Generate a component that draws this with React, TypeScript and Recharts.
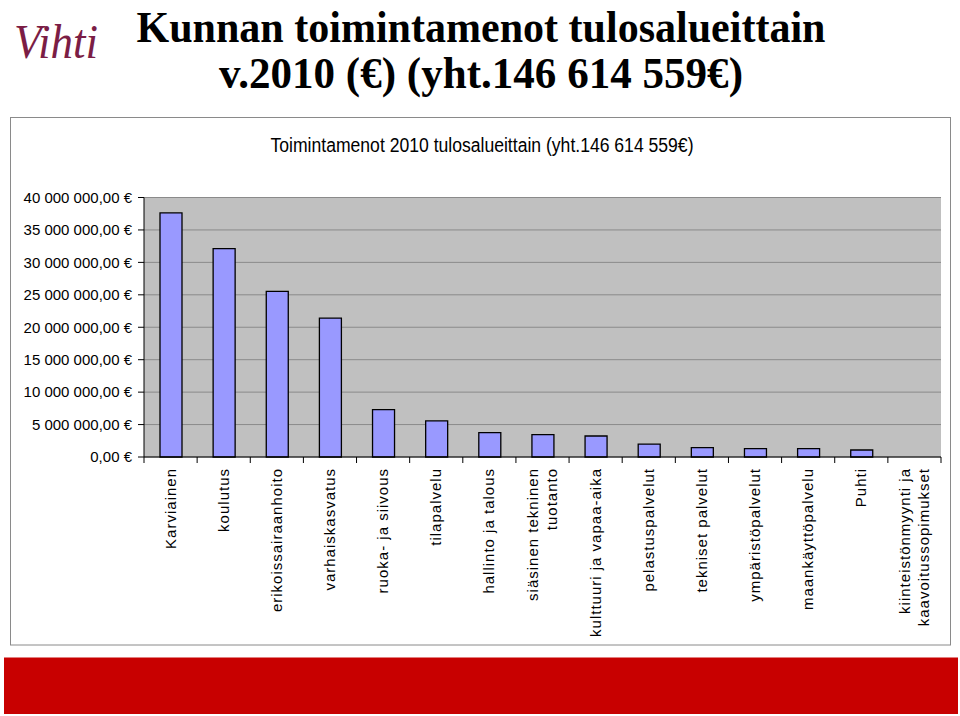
import { BarChart, Bar, XAxis, YAxis, CartesianGrid } from 'recharts';

// tulosalueet (x-akselin nimet), rivinvaihto \n
const CATEGORIES = [
  'Karviainen',
  'koulutus',
  'erikoissairaanhoito',
  'varhaiskasvatus',
  'ruoka- ja siivous',
  'tilapalvelu',
  'hallinto ja talous',
  'siäsinen tekninen\ntuotanto',
  'kulttuuri ja vapaa-aika',
  'pelastuspalvelut',
  'tekniset palvelut',
  'ympäristöpalvelut',
  'maankäyttöpalvelu',
  'Puhti',
  'kiinteistönmyynti ja\nkaavoitussopimukset',
];

// toimintamenot 2010, euroa (luettu kuvasta)
const SPENDING = [
  37620000, 32120000, 25530000, 21410000, 7310000, 5560000, 3760000, 3450000,
  3240000, 2000000, 1450000, 1290000, 1290000, 1080000, 0,
];

const Y_TICKS = [0, 5000000, 10000000, 15000000, 20000000, 25000000, 30000000, 35000000, 40000000];

const data = CATEGORIES.map((name, i) => ({ name, value: SPENDING[i] }));

const PLOT_LEFT = 144;
const PLOT_RIGHT = 941;
const BAND = (PLOT_RIGHT - PLOT_LEFT) / CATEGORIES.length;
const TICK_SIZE = 6;
const TICK_MARGIN = 5;

const formatEuro = (v: number) =>
  Math.round(v).toString().replace(/\B(?=(\d{3})+(?!\d))/g, ' ') + ',00 €';

function CategoryTick(props: any) {
  const { x, y, payload, index } = props;
  const lines = String(payload.value).split('\n');
  const axisY = y - TICK_SIZE - TICK_MARGIN;
  const lh = 19;
  return (
    <g>
      {index === 0 && (
        <line x1={x - BAND / 2} y1={axisY} x2={x - BAND / 2} y2={axisY + TICK_SIZE} stroke="#000" />
      )}
      <line x1={x + BAND / 2} y1={axisY} x2={x + BAND / 2} y2={axisY + TICK_SIZE} stroke="#000" />
      <text
        transform={`translate(${x},${y}) rotate(-90)`}
        textAnchor="end"
        fontSize={15}
        letterSpacing={1}
        fill="#000"
      >
        {lines.map((l, i) => (
          <tspan key={i} x={0} y={(i - (lines.length - 1) / 2) * lh} dy="0.33em">
            {l}
          </tspan>
        ))}
      </text>
    </g>
  );
}

export default function App() {
  return (
    <div style={{ position: 'fixed', left: 0, top: 0, width: 960, height: 716, background: '#fff' }}>
      <svg width={960} height={716} style={{ position: 'absolute', left: 0, top: 0 }}>
        <text
          x={14}
          y={58}
          fontFamily="Liberation Serif, serif"
          fontStyle="italic"
          fontSize={48}
          fill="#7b1d45"
          textLength={84}
          lengthAdjust="spacingAndGlyphs"
        >
          Vihti
        </text>
        <text
          x={481}
          y={41.7}
          textAnchor="middle"
          fontFamily="Liberation Serif, Times New Roman, serif"
          fontWeight="bold"
          fontSize={44}
          textLength={689}
          lengthAdjust="spacingAndGlyphs"
        >
          Kunnan toimintamenot tulosalueittain
        </text>
        <text
          x={481}
          y={88.3}
          textAnchor="middle"
          fontFamily="Liberation Serif, Times New Roman, serif"
          fontWeight="bold"
          fontSize={44}
          textLength={524}
          lengthAdjust="spacingAndGlyphs"
        >
          v.2010 (€) (yht.146 614 559€)
        </text>
        <rect x={10.5} y={117.5} width={940} height={527.5} fill="#fff" stroke="#8a8a8a" />
        <text
          x={482}
          y={152.3}
          textAnchor="middle"
          fontFamily="Liberation Sans, Arial, sans-serif"
          fontSize={20}
          textLength={423}
          lengthAdjust="spacingAndGlyphs"
        >
          Toimintamenot 2010 tulosalueittain (yht.146 614 559€)
        </text>
        <rect x={4} y={657.5} width={954} height={56.5} fill="#c80000" />
      </svg>
      <div style={{ position: 'absolute', left: 0, top: 0 }}>
        <BarChart
          width={960}
          height={716}
          data={data}
          margin={{ top: 197.5, right: 19, bottom: 79, left: 10 }}
          style={{ fontFamily: 'Liberation Sans, Arial, sans-serif' }}
        >
          <CartesianGrid vertical={false} stroke="#8a8a8a" fill="#c0c0c0" fillOpacity={1} />
          <XAxis
            dataKey="name"
            interval={0}
            height={180}
            tickLine={false}
            tickSize={TICK_SIZE}
            tickMargin={TICK_MARGIN}
            axisLine={{ stroke: '#000' }}
            tick={(p: any) => <CategoryTick {...p} />}
          />
          <YAxis
            domain={[0, 40000000]}
            ticks={Y_TICKS}
            interval={0}
            width={134}
            tickFormatter={formatEuro}
            tick={{ fill: '#000', fontSize: 15 }}
            tickLine={{ stroke: '#000' }}
            tickSize={6}
            tickMargin={6}
            axisLine={{ stroke: '#000' }}
          />
          <YAxis
            yAxisId="r"
            orientation="right"
            width={0}
            tick={false}
            tickLine={false}
            axisLine={{ stroke: '#8a8a8a' }}
          />
          <Bar
            dataKey="value"
            fill="#9999ff"
            stroke="#000"
            strokeWidth={1.3}
            barSize={22}
            isAnimationActive={false}
          />
        </BarChart>
      </div>
    </div>
  );
}
